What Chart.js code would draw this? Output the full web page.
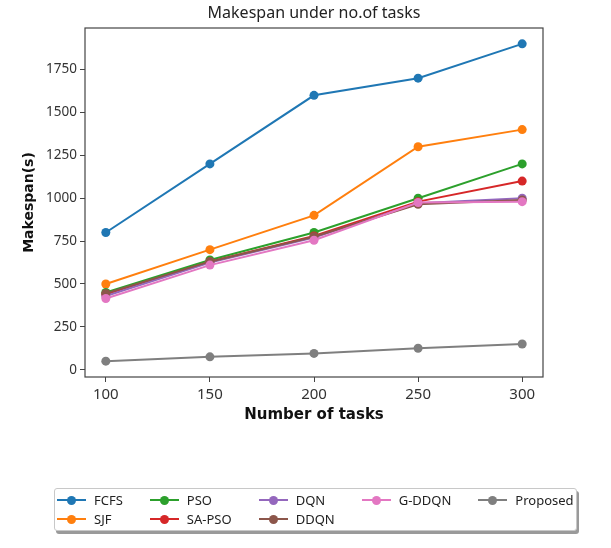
<!DOCTYPE html>
<html lang="en">
<head>
    <meta charset="UTF-8">
    <title>Makespan under no.of tasks</title>
    <style>
        body {
            margin: 0;
            padding: 0;
            background: #fff;
            font-family: "Noto Sans", sans-serif;
        }
        .wrap {
            position: relative;
            width: 611px;
            height: 548px;
        }
        #legend {
            position: absolute;
            left: 54px;
            top: 488px;
            width: 521px;
            height: 41px;
            border: 1px solid #c8c8c8;
            border-radius: 3px;
            background: #fff;
            box-shadow: 2px 3px 0 #9a9a9a;
            box-sizing: content-box;
        }
        #legend ul {
            list-style: none;
            margin: 0;
            padding: 1px 0 0 2px;
            display: grid;
            grid-template-rows: 19px 19px;
            grid-auto-columns: max-content;
            column-gap: 27px;
        }
        #legend li {
            display: flex;
            align-items: center;
            font-size: 13px;
            color: #222;
            white-space: nowrap;
        }
        #legend .handle {
            position: relative;
            display: inline-block;
            width: 29px;
            height: 19px;
            margin-right: 8px;
        }
        #legend .handle .ln {
            position: absolute;
            left: 0;
            right: 0;
            top: 9px;
            height: 2px;
        }
        #legend .handle .dot {
            position: absolute;
            left: 10px;
            top: 6px;
            width: 9px;
            height: 9px;
            border-radius: 50%;
        }
    </style>
    <script src="https://cdn.jsdelivr.net/npm/chart.js"></script>
</head>
<body>
<div class="wrap">
    <canvas id="myChart" width="611" height="548"></canvas>
    <div id="legend"></div>
</div>
<script>
    // values
    const tasks = [100, 150, 200, 250, 300];
    const fcfs = [800, 1200, 1600, 1700, 1900];
    const sjf = [500, 700, 900, 1300, 1400];
    const pso = [450, 640, 800, 1000, 1200];
    const saPso = [440, 630, 780, 980, 1100];
    const dqn = [430, 625, 770, 970, 1000];
    const ddqn = [445, 630, 775, 965, 990];
    const gDdqn = [415, 610, 755, 975, 980];
    const proposed = [50, 75, 95, 125, 150];

    const names = ['FCFS', 'SJF', 'PSO', 'SA-PSO', 'DQN', 'DDQN', 'G-DDQN', 'Proposed'];
    const series = [fcfs, sjf, pso, saPso, dqn, ddqn, gDdqn, proposed];
    const colors = ['#1f77b4', '#ff7f0e', '#2ca02c', '#d62728', '#9467bd', '#8c564b', '#e377c2', '#7f7f7f'];

    const xTicks = [100, 150, 200, 250, 300];
    const yTicks = [0, 250, 500, 750, 1000, 1250, 1500, 1750];
    const legendCols = 5;

    const datasets = series.map((vals, i) => ({
        label: names[i],
        data: vals.map((v, j) => ({x: tasks[j], y: v})),
        borderColor: colors[i],
        backgroundColor: colors[i],
        borderWidth: 2,
        pointRadius: 4.5,
        pointBorderWidth: 0,
        pointHoverRadius: 4.5,
        fill: false,
        tension: 0,
        order: names.length - i
    }));

    // box around the plot area, like matplotlib spines
    const frame = {
        id: 'frame',
        afterDraw(chart) {
            const {ctx, chartArea: a} = chart;
            ctx.save();
            ctx.strokeStyle = '#444';
            ctx.lineWidth = 1.2;
            ctx.strokeRect(a.left, a.top, a.right - a.left, a.bottom - a.top);
            ctx.restore();
        }
    };

    // column-first legend; first columns get the extra row (matplotlib ncol style)
    const htmlLegend = {
        id: 'htmlLegend',
        afterUpdate(chart) {
            const box = document.getElementById('legend');
            const ds = chart.data.datasets;
            const rows = Math.ceil(ds.length / legendCols);
            const full = ds.length - legendCols * (rows - 1);
            let col = 0, row = 0;
            const items = ds.map(d => {
                const li = '<li style="grid-column:' + (col + 1) + ';grid-row:' + (row + 1) + '">' +
                    '<span class="handle"><span class="ln" style="background:' + d.borderColor +
                    '"></span><span class="dot" style="background:' + d.borderColor +
                    '"></span></span>' + d.label + '</li>';
                row++;
                if (row >= (col < full ? rows : rows - 1)) { row = 0; col++; }
                return li;
            });
            box.innerHTML = '<ul>' + items.join('') + '</ul>';
        }
    };

    const tickColor = '#333';

    new Chart(document.getElementById('myChart'), {
        type: 'line',
        data: {datasets: datasets},
        plugins: [frame, htmlLegend],
        options: {
            responsive: false,
            animation: false,
            layout: {padding: {left: 0, right: 68, top: 0, bottom: 111}},
            plugins: {
                legend: {display: false},
                tooltip: {enabled: false},
                title: {
                    display: true,
                    text: 'Makespan under no.of tasks',
                    fullSize: false,
                    color: '#222',
                    font: {family: 'Noto Sans', size: 16, weight: 'normal', lineHeight: 1.2},
                    padding: {top: 3.4, bottom: 5.4}
                }
            },
            scales: {
                x: {
                    type: 'linear',
                    min: 90,
                    max: 310,
                    afterBuildTicks: s => { s.ticks = xTicks.map(v => ({value: v})); },
                    afterFit: s => { s.height = 60; },
                    border: {display: false},
                    grid: {drawOnChartArea: false, drawTicks: true, tickLength: 5, color: '#444'},
                    ticks: {
                        color: tickColor,
                        padding: 4,
                        maxRotation: 0,
                        callback: v => String(v),
                        font: {family: 'Noto Sans', size: 15, lineHeight: 1.2}
                    },
                    title: {
                        display: true,
                        text: 'Number of tasks',
                        color: '#111',
                        font: {family: 'DejaVu Sans', size: 15, weight: 'bold', lineHeight: 1.2},
                        padding: {top: 2, bottom: 13}
                    }
                },
                y: {
                    type: 'linear',
                    min: -42.5,
                    max: 1992.5,
                    afterBuildTicks: s => { s.ticks = yTicks.map(v => ({value: v})); },
                    afterFit: s => { s.width = 85; },
                    border: {display: false},
                    grid: {drawOnChartArea: false, drawTicks: true, tickLength: 5, color: '#444'},
                    ticks: {
                        color: tickColor,
                        padding: 3,
                        callback: v => String(v),
                        font: {family: 'Noto Sans', size: 13.5, lineHeight: 1.2}
                    },
                    title: {
                        display: true,
                        text: 'Makespan(s)',
                        color: '#111',
                        font: {family: 'DejaVu Sans', size: 14, weight: 'bold', lineHeight: 1.2},
                        padding: {top: 21, bottom: 0}
                    }
                }
            }
        }
    });
</script>
</body>
</html>
